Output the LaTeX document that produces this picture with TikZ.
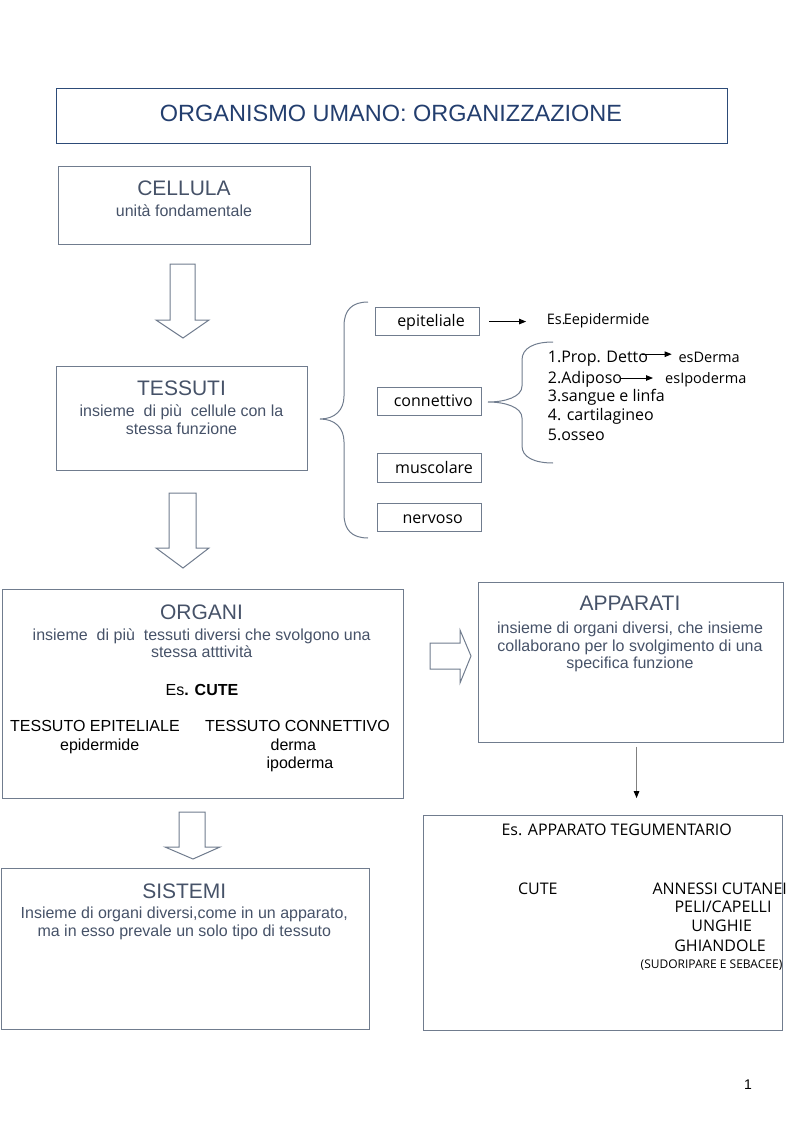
\documentclass[tikz,border=0pt]{standalone}
\usepackage{fontspec}
\setmainfont{Liberation Sans}
\newfontfamily\osans{Open Sans}
\usetikzlibrary{arrows.meta}
\definecolor{titleblue}{RGB}{35,62,110}
\definecolor{titleline}{RGB}{45,75,120}
\definecolor{headgray}{RGB}{70,82,104}
\definecolor{boxline}{RGB}{112,124,142}
\tikzset{
 box/.style={draw=boxline, line width=1.1pt, anchor=north west, inner sep=0pt},
 head/.style={anchor=base, text=headgray, font=\fontsize{21}{24}\selectfont, inner sep=0pt},
 body/.style={anchor=base, text=headgray, font=\fontsize{16}{18}\selectfont, inner sep=0pt},
 blk/.style={anchor=base, text=black, font=\fontsize{16}{18}\selectfont, inner sep=0pt},
 os/.style={anchor=base, text=black, font=\osans\fontsize{16}{18}\selectfont, inner sep=0pt},
 ossm/.style={anchor=base west, text=black, font=\osans\fontsize{14.5}{17}\selectfont, inner sep=0pt},
 blockarrow/.style={draw=boxline, line width=1pt, fill=white, line join=miter},
 brace/.style={draw=boxline, line width=1pt},
 thinarrow/.style={draw=black, line width=0.9pt, -{Triangle[length=7pt,width=5.5pt]}},
}
\begin{document}
\begin{tikzpicture}[x=1pt,y=-1pt]
\useasboundingbox (0,0) rectangle (794,1123);
% boxes
\node[box, draw=titleline, minimum width=671pt, minimum height=55pt] (title) at (56,88) {};
\node[box, minimum width=252pt, minimum height=78pt] (cellula) at (58,166) {};
\node[box, minimum width=251pt, minimum height=104pt] (tessuti) at (56,366) {};
\node[box, minimum width=104pt, minimum height=28pt] (epit) at (375,307) {};
\node[box, minimum width=104pt, minimum height=28pt] (conn) at (377,387) {};
\node[box, minimum width=104pt, minimum height=29pt] (musc) at (377,453) {};
\node[box, minimum width=104pt, minimum height=28pt] (nerv) at (377,503) {};
\node[box, minimum width=401pt, minimum height=209pt] (organi) at (2,589) {};
\node[box, minimum width=305pt, minimum height=160pt] (apparati) at (478,582) {};
\node[box, minimum width=359pt, minimum height=215pt] (teg) at (423,815) {};
\node[box, minimum width=368pt, minimum height=161pt] (sistemi) at (1,868) {};
% title
\node[anchor=base, text=titleblue, font=\fontsize{23.5}{26}\selectfont, inner sep=0pt] (ttl) at (391,121.5) {ORGANISMO UMANO: ORGANIZZAZIONE};
% cellula
\node[head] (cellh) at (184,196) {CELLULA};
\node[body] (cellb) at (184,216.7) {unità fondamentale};
% tessuti
\node[head] (tessh) at (181.5,395) {TESSUTI};
\node[body] (tessb1) at (181.5,416.7) {insieme\ \ di più\ \ cellule con la};
\node[body] (tessb2) at (181.5,434) {stessa funzione};
% small boxes text
\node[os] (epitt) at (431,326.7) {epiteliale};
\node[os] (connt) at (433.3,406.7) {connettivo};
\node[os] (musct) at (434,473.3) {muscolare};
\node[os] (nervt) at (432.7,523.3) {nervoso};
\node[ossm] (esepi) at (546.7,324) {Es.\kern-2pt Eepidermide};
\node[os, anchor=base west] (l1) at (547.7,362.7) {1.Prop. Detto};
\node[os, anchor=base west] (l2) at (547.7,383.3) {2.Adiposo};
\node[os, anchor=base west] (l3) at (547.7,401.7) {3.sangue e linfa};
\node[os, anchor=base west] (l4) at (547.7,420) {4. cartilagineo};
\node[os, anchor=base west] (l5) at (547.7,440) {5.osseo};
\node[ossm] (esderma) at (678.3,362.7) {esDerma};
\node[ossm] (esipo) at (665,383.3) {esIpoderma};
% organi
\node[head] (orgh) at (201.5,619.3) {ORGANI};
\node[body] (orgb1) at (201.7,640) {insieme\ \ di più\ \ tessuti diversi che svolgono una};
\node[body] (orgb2) at (201.7,657.7) {stessa atttività};
\node[blk] (escute) at (202,695) {Es\textbf{. CUTE}};
\node[blk, anchor=base west] (tepi) at (10,731.7) {TESSUTO EPITELIALE};
\node[blk] (epid) at (99.7,750) {epidermide};
\node[blk, anchor=base west] (tconn) at (205,731.7) {TESSUTO CONNETTIVO};
\node[blk] (derma) at (293.3,750) {derma};
\node[blk] (ipod) at (300,768.3) {ipoderma};
% apparati
\node[head] (apph) at (630,610.7) {APPARATI};
\node[body] (appb1) at (630,633.3) {insieme di organi diversi, che insieme};
\node[body] (appb2) at (630,651.7) {collaborano per lo svolgimento di una};
\node[body] (appb3) at (630,668.3) {specifica funzione};
% sistemi
\node[head] (sish) at (184.3,898.3) {SISTEMI};
\node[body] (sisb1) at (184.3,918.3) {Insieme di organi diversi,come in un apparato,};
\node[body] (sisb2) at (184.3,936) {ma in esso prevale un solo tipo di tessuto};
% tegumentario
\node[os] (tegh) at (616.7,835) {Es. APPARATO TEGUMENTARIO};
\node[os] (tcute) at (537.8,894) {CUTE};
\node[os] (annessi) at (719.7,894) {ANNESSI CUTANEI};
\node[os] (peli) at (723,912.7) {PELI/CAPELLI};
\node[os] (unghie) at (721.7,931.7) {UNGHIE};
\node[os] (ghiand) at (720,951.7) {GHIANDOLE};
\node[os, font=\osans\fontsize{12}{14}\selectfont] (sudor) at (711.5,968.3) {(SUDORIPARE E SEBACEE)};
% page number
\node[anchor=base, font=\fontsize{14}{16}\selectfont, inner sep=0pt] (pnum) at (748,1089) {1};
% block arrows
\draw[blockarrow] (170,264) -- (195,264) -- (195,320) -- (209,320) -- (183,338) -- (156,320) -- (170,320) -- cycle;
\draw[blockarrow] (169,493) -- (196,493) -- (196,548) -- (209,548) -- (183,568) -- (156,548) -- (169,548) -- cycle;
\draw[blockarrow] (179,812) -- (205,812) -- (205,847) -- (220,847) -- (193,859) -- (165,847) -- (179,847) -- cycle;
\draw[blockarrow] (430,643) -- (460,643) -- (460,630) -- (471,656) -- (460,683) -- (460,669) -- (430,669) -- cycle;
% braces
\draw[brace] (368,302) .. controls (352,302) and (344,310) .. (344,326) -- (344,396) .. controls (344,410) and (335,419) .. (320,419) .. controls (335,419) and (344,428) .. (344,442) -- (344,514) .. controls (344,530) and (352,538) .. (368,538);
\draw[brace] (553,342) .. controls (534,342) and (522,348) .. (522,360) -- (522,386) .. controls (522,397) and (505,402) .. (488,402) .. controls (505,402) and (522,407) .. (522,418) -- (522,446) .. controls (522,457) and (534,463) .. (553,463);
% thin arrows
\draw[thinarrow] ([xshift=9pt]epit.east) -- ++(37pt,0);
\draw[thinarrow] ([xshift=-6.7pt,yshift=8.5pt]l1.base east) -- ([xshift=-6.6pt,yshift=8.5pt]esderma.base west);
\draw[thinarrow] ([xshift=-2pt,yshift=5.3pt]l2.base east) -- ([xshift=-12pt,yshift=5.3pt]esipo.base west);
\draw[draw=gray, line width=1pt, -{Triangle[length=7pt,width=5.5pt,color=black]}] ([xshift=5.5pt,yshift=-3.5pt]apparati.south) -- ([xshift=5.5pt,yshift=-55pt]apparati.south);
\end{tikzpicture}
\end{document}
